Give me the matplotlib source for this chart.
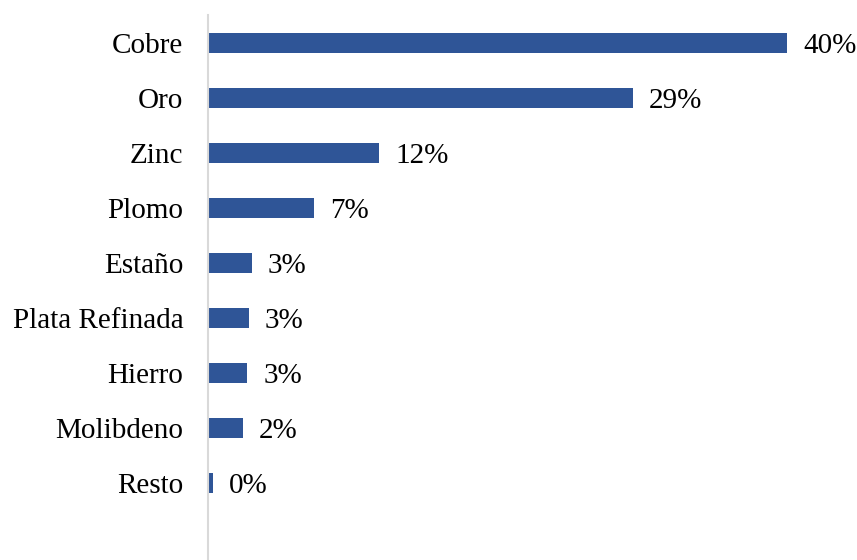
import matplotlib
matplotlib.use("Agg")
import matplotlib.pyplot as plt

## data
metals = ["Cobre", "Oro", "Zinc", "Plomo", "Estaño", "Plata Refinada",
          "Hierro", "Molibdeno", "Resto"]
shares = [40.0, 29.3, 11.8, 7.3, 3.0, 2.8, 2.7, 2.4, 0.3]
labels = ["40%", "29%", "12%", "7%", "3%", "3%", "3%", "2%", "0%"]

BAR_COLOR = "#2F5597"

plt.rcParams["font.family"] = ["Liberation Serif", "DejaVu Serif"]

fig = plt.figure(figsize=(8.57, 5.6), dpi=100)
ax = fig.add_axes([0.243, 0.0, 0.757, 0.973])

y = list(range(len(metals)))
ax.barh(y, shares, height=0.36, color=BAR_COLOR)

for yi, v, lab in zip(y, shares, labels):
    ax.text(v + 1.1, yi, lab, va="center_baseline", ha="left", fontsize=21)

ax.set_yticks(y)
ax.set_yticklabels(metals, fontsize=21, va="center_baseline")
ax.set_xticks([])
ax.set_xlim(0, 44.8)
ax.set_ylim(len(metals) - 1 + 1.4, -0.5)
ax.tick_params(axis="y", length=0, pad=18)

for s in ["top", "right", "bottom"]:
    ax.spines[s].set_visible(False)
ax.spines["left"].set_color("#D9D9D9")
ax.spines["left"].set_linewidth(1.5)

plt.savefig("out.png", dpi=100)
plt.close()
